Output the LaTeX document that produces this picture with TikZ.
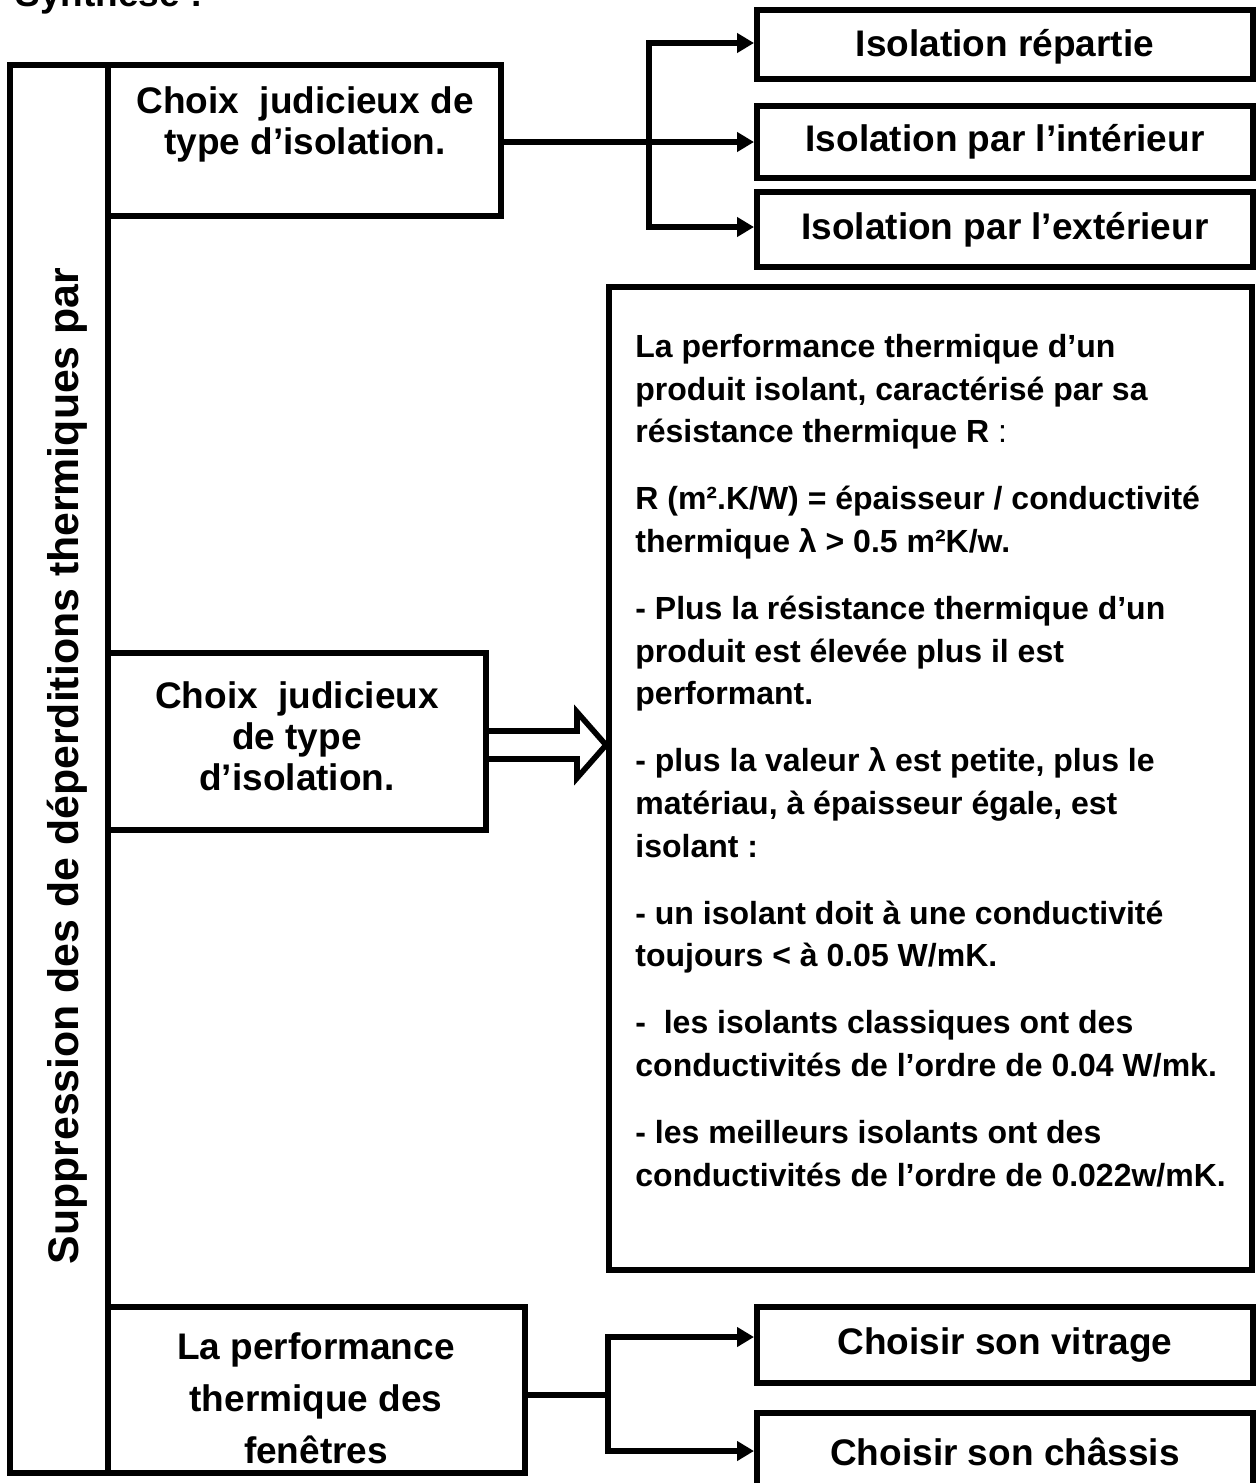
\documentclass[tikz,border=0pt]{standalone}
\usepackage{fontspec}
\setmainfont{Liberation Sans}
\usetikzlibrary{arrows.meta,calc,fit}
\begin{document}
\begin{tikzpicture}[x=0.5pt,y=-0.5pt,
  box/.style={draw,line width=3pt,inner sep=0pt,rectangle},
  lbl/.style={font=\fontsize{18.5}{20.5}\selectfont\bfseries,align=center,inner sep=0pt},
  lblwide/.style={font=\fontsize{18.5}{26}\selectfont\bfseries,align=center,inner sep=0pt},
  conn/.style={line width=2.8pt},
  arr/.style={line width=2.8pt,line join=miter,-{Triangle[length=8.5pt,width=9.5pt]}},
  hollow/.style={line width=2.8pt,line join=miter},
  body/.style={font=\fontsize{16}{21.3}\selectfont\bfseries,align=left,inner sep=0pt,anchor=north west}
]
\path[use as bounding box] (0,0) rectangle (1257,1483);
\clip (0,0) rectangle (1257,1483);

% title (cut at top, as in the reference)
\node[font=\fontsize{18.5}{22}\selectfont\bfseries,anchor=base west,inner sep=0pt] (title) at (15,6) {Synthèse :};

% left column and main boxes
\node[box,fit={(10,65) (108,1473)}] (col) {};
\node[box,fit={(108,65) (501,216)}] (b1) {};
\node[box,fit={(108,653) (486,830)}] (b2) {};
\node[box,fit={(108,1307) (525,1473)}] (b3) {};

\node[font=\fontsize{21.4}{25}\selectfont\bfseries,rotate=90,inner sep=0pt] (side) at (67,766) {Suppression des de déperditions thermiques par};

\node[lbl] (t1) at (305,124) {Choix~ judicieux de\\type d’isolation.};
\node[lbl] (t2) at (297,736) {Choix~ judicieux\\de type\\d’isolation.};
\node[lblwide] (t3) at (316,1398) {La performance\\thermique des\\fenêtres};

% right boxes top
\node[box,fit={(757,10) (1253,79)}] (rep) {};
\node[box,fit={(757,106) (1253,178)}] (rint) {};
\node[box,fit={(757,192) (1253,267)}] (rext) {};
\node[lbl] (trep) at ($(rep)+(0,2)$) {Isolation répartie};
\node[lbl] (trint) at (rint) {Isolation par l’intérieur};
\node[lbl] (trext) at (rext) {Isolation par l’extérieur};

% big box
\node[box,fit={(609,287) (1252,1270)}] (big) {};
\node[body] (bt) at (635,334) {La performance thermique d’un\\
produit isolant, caractérisé par sa\\
résistance thermique R {\mdseries :}\\[12.25pt]
R (m².K/W) = épaisseur / conductivité\\
thermique λ > 0.5 m²K/w.\\[12.25pt]
- Plus la résistance thermique d’un\\
produit est élevée plus il est\\
performant.\\[12.25pt]
- plus la valeur λ est petite, plus le\\
matériau, à épaisseur égale, est\\
isolant :\\[12.25pt]
- un isolant doit à une conductivité\\
toujours < à 0.05 W/mK.\\[12.25pt]
-~ les isolants classiques ont des\\
conductivités de l’ordre de 0.04 W/mk.\\[12.25pt]
- les meilleurs isolants ont des\\
conductivités de l’ordre de 0.022w/mK.};

% bottom right boxes
\node[box,fit={(757,1307) (1253,1383)}] (vit) {};
\node[box,fit={(757,1413) (1253,1495)}] (chas) {};
\node[lbl] (tvit) at (vit) {Choisir son vitrage};
\node[lbl] (tchas) at ($(chas)+(0,-2)$) {Choisir son châssis};

% top bracket
\coordinate (j1t) at (649,43);
\coordinate (j1b) at (649,227);
\draw[arr] (j1b) -- (j1t) -- (j1t -| rep.west);
\draw[arr] (j1t) -- (j1b) -- (j1b -| rext.west);
\draw[arr] (b1.east |- rint.west) -- (rint.west);

% bottom bracket
\coordinate (j2t) at (608,1337);
\coordinate (j2m) at (608,1395);
\coordinate (j2b) at (608,1451);
\draw[conn] (b3.east |- j2m) -- (j2m);
\draw[arr] (j2b) -- (j2t) -- (j2t -| vit.west);
\draw[arr] (j2t) -- (j2b) -- (j2b -| chas.west);

% hollow double arrow
\draw[hollow] (b2.east |- 0,731) -- (577,731) -- (577,712) -- (big.west |- 0,745) -- (577,778) -- (577,759) -- (b2.east |- 0,759);
\end{tikzpicture}
\end{document}
